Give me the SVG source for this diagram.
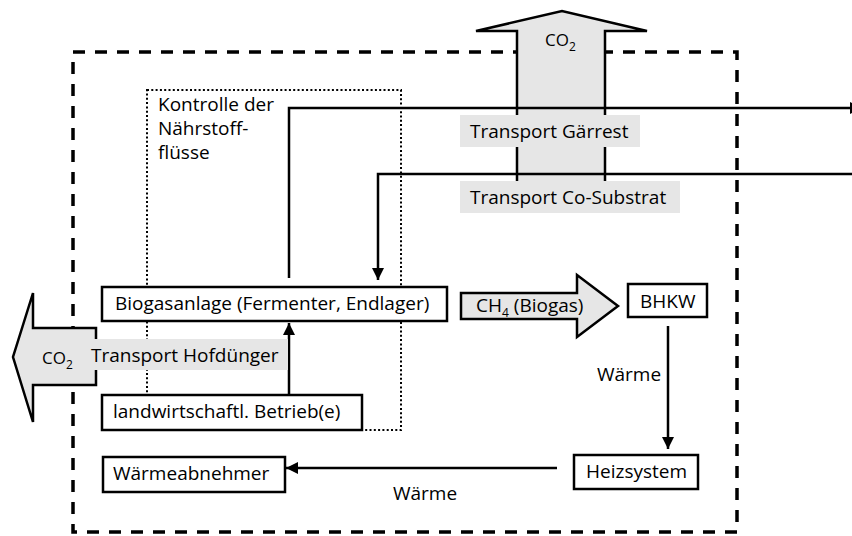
<svg xmlns="http://www.w3.org/2000/svg" width="852" height="536" viewBox="0 0 852 536">
<style>
text{font-family:"Open Sans","Noto Sans",sans-serif;font-size:19px;fill:#000}
.sub{font-size:12px}
.box{fill:#fff;stroke:#000;stroke-width:2.5}
.lbl{fill:#e6e6e6;stroke:none}
.big{fill:#e6e6e6;stroke:#000;stroke-width:2.5;stroke-linejoin:miter}
.con{fill:none;stroke:#000;stroke-width:2.5}
</style>
<defs>
<marker id="ah" markerUnits="userSpaceOnUse" markerWidth="12" markerHeight="12" refX="12" refY="6" orient="auto">
<path d="M0,0 L12,6 L0,12 z" fill="#000"/>
</marker>
</defs>
<rect width="852" height="536" fill="#fff"/>
<g id="boundary">
<rect x="73" y="52" width="664" height="480" fill="none" stroke="#000" stroke-width="3.5" stroke-dasharray="12 10"/>
</g>
<g id="nutrient-control">
<rect x="147" y="90" width="254" height="340" fill="none" stroke="#000" stroke-width="2" stroke-dasharray="2 2.3"/>
<text x="158" y="111">Kontrolle der</text>
<text x="158" y="135">Nährstoff-</text>
<text x="158" y="159">flüsse</text>
</g>
<g id="co2-top">
<path class="big" d="M517,200 V31 H476 L562,11 L647,31 H605 V200"/>
<text x="545" y="46" style="font-size:17px">CO<tspan class="sub" dy="5">2</tspan></text>
</g>
<g id="co2-left">
<path class="big" d="M96,328 H33 V293 L13,357 L33,422 V385 H96 Z"/>
<text x="42" y="364" style="font-size:17px">CO<tspan class="sub" dy="5">2</tspan></text>
</g>
<g id="ch4">
<path class="big" d="M461,293 H577 V275 L618,306 L577,337 V319 H461 Z"/>
<text x="476" y="312">CH<tspan class="sub" dy="5">4</tspan><tspan dy="-5"> (Biogas)</tspan></text>
</g>
<g id="connectors">
<path class="con" d="M289,278 V108 H862" marker-end="url(#ah)"/>
<path class="con" d="M852,174 H378 V280" marker-end="url(#ah)"/>
<path class="con" d="M289,395 V323" marker-end="url(#ah)"/>
<path class="con" d="M668,326 V449" marker-end="url(#ah)"/>
<path class="con" d="M557,468 H286" marker-end="url(#ah)"/>
</g>
<g id="label-gaerrest">
<rect class="lbl" x="460" y="115" width="180" height="32"/>
<text x="470" y="138">Transport Gärrest</text>
</g>
<g id="label-cosubstrat">
<rect class="lbl" x="460" y="181" width="220" height="32"/>
<text x="470" y="204">Transport Co-Substrat</text>
</g>
<g id="label-hofduenger">
<rect class="lbl" x="86" y="339" width="202" height="31"/>
<text x="91" y="362">Transport Hofdünger</text>
</g>
<g id="biogasanlage">
<rect class="box" x="102" y="287" width="345" height="34"/>
<text x="115" y="310">Biogasanlage (Fermenter, Endlager)</text>
</g>
<g id="betrieb">
<rect class="box" x="102" y="395" width="260" height="35"/>
<text x="113" y="418">landwirtschaftl. Betrieb(e)</text>
</g>
<g id="bhkw">
<rect class="box" x="628" y="284" width="79" height="33"/>
<text x="640" y="308">BHKW</text>
</g>
<g id="heizsystem">
<rect class="box" x="574" y="455" width="124" height="34"/>
<text x="586" y="478">Heizsystem</text>
</g>
<g id="waermeabnehmer">
<rect class="box" x="103" y="457" width="182" height="35"/>
<text x="113" y="480">Wärmeabnehmer</text>
</g>
<g id="labels">
<text x="597" y="381">Wärme</text>
<text x="393" y="500">Wärme</text>
</g>
</svg>
